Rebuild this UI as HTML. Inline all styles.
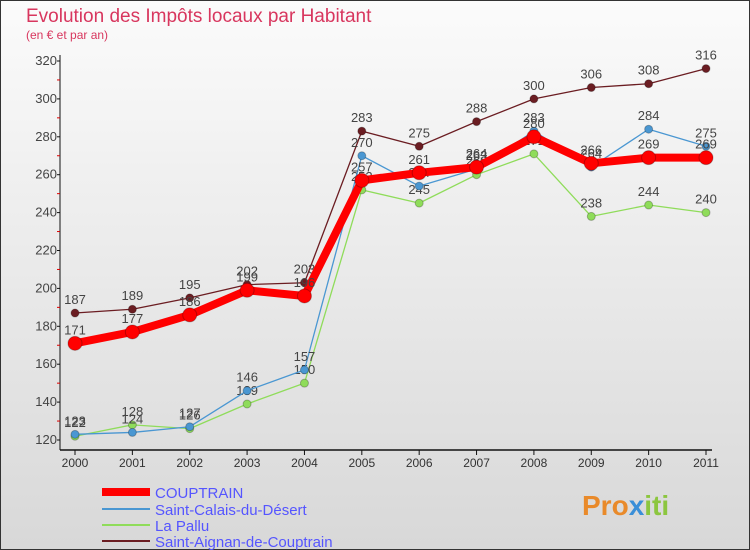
<!DOCTYPE html>
<html><head><meta charset="utf-8"><style>
body{margin:0;width:750px;height:550px;overflow:hidden;font-family:"Liberation Sans",sans-serif}
#c{position:absolute;left:0;top:0;width:748px;height:548px;border:1px solid #333;background:linear-gradient(#fbfbfb,#d8d8d8)}
</style></head><body>
<div id="c"></div>
<svg id="s" width="750" height="550" style="position:absolute;left:0;top:0">
<text x="26" y="22" font-size="19" fill="#d8365e">Evolution des Impôts locaux par Habitant</text>
<text x="26" y="39" font-size="12" fill="#d8365e">(en € et par an)</text>
<g id="axes"></g><g id="series"></g>
<g>
<line x1="102" y1="492" x2="150" y2="492" stroke="#f00" stroke-width="8"/>
<text x="155" y="498" font-size="15" fill="#55f">COUPTRAIN</text>
<line x1="102" y1="509" x2="150" y2="509" stroke="#4a97d2" stroke-width="2"/>
<text x="155" y="515" font-size="15" fill="#55f">Saint-Calais-du-Désert</text>
<line x1="102" y1="525" x2="150" y2="525" stroke="#8fdc5a" stroke-width="2"/>
<text x="155" y="531" font-size="15" fill="#55f">La Pallu</text>
<line x1="102" y1="541" x2="150" y2="541" stroke="#6b1d22" stroke-width="2"/>
<text x="155" y="547" font-size="15" fill="#55f">Saint-Aignan-de-Couptrain</text>
</g>
<text x="582" y="515" font-size="28" font-weight="bold" fill="#e98a2a">Pro<tspan fill="#3a8fd8">x</tspan><tspan fill="#8cc63f">iti</tspan></text>
</svg>
<script>
const years=["2000","2001","2002","2003","2004","2005","2006","2007","2008","2009","2010","2011"];
const yTicks=[120,140,160,180,200,220,240,260,280,300,320];
const couptrain=[171,177,186,199,196,257,261,264,280,266,269,269];
const saintCalais=[123,124,127,146,157,270,254,263,283,264,284,275];
const laPallu=[122,128,126,139,150,252,245,260,271,238,244,240];
const saintAignan=[187,189,195,202,203,283,275,288,300,306,308,316];
const NS="http://www.w3.org/2000/svg";
const X=i=>75+i*(706-75)/11;
const Y=v=>440-(v-120)*(440-61)/200;
function mk(t,a,p){const e=document.createElementNS(NS,t);for(const k in a)e.setAttribute(k,a[k]);p.appendChild(e);return e;}
const ax=document.getElementById('axes');
const yl=mk('line',{x1:60,y1:55,x2:60,y2:450,stroke:'#111'},ax);


const xl=mk('line',{x1:60,y1:450,x2:712,y2:450,stroke:'#111','stroke-width':1.5},ax);


yTicks.forEach(v=>{const t=mk('text',{x:57,y:Y(v)+4,'font-size':13,'text-anchor':'end',fill:'#444'},ax);t.textContent=v;


mk('line',{x1:57,y1:Y(v),x2:60,y2:Y(v),stroke:'#111'},ax);
if(v<320)mk('line',{x1:57,y1:Y(v+10),x2:60,y2:Y(v+10),stroke:'#d00'},ax);});
years.forEach((y,i)=>{mk('line',{x1:X(i),y1:450,x2:X(i),y2:455,stroke:'#111'},ax);
const t=mk('text',{x:X(i),y:467,'font-size':12,'text-anchor':'middle',fill:'#333'},ax);t.textContent=y;

});
const sg=document.getElementById('series');
function draw(d,col,w,r,name){const g=mk('g',{},sg);


mk('polyline',{points:d.map((v,i)=>X(i)+','+Y(v)).join(' '),fill:'none',stroke:col,'stroke-width':w,'stroke-linejoin':'round'},g);
d.forEach((v,i)=>{const c=mk('circle',{cx:X(i),cy:Y(v),r:r,fill:col,stroke:'rgba(0,0,0,0.25)'},g);


const t=mk('text',{x:X(i),y:Y(v)-9,'font-size':13,'text-anchor':'middle',fill:'#444'},g);t.textContent=v;

});}
draw(saintAignan,'#6b1d22',1.3,4,'series-saint-aignan');
draw(laPallu,'#8fdc5a',1.3,4,'series-la-pallu');
draw(saintCalais,'#4a97d2',1.3,4,'series-saint-calais');
draw(couptrain,'#f00',8,7,'series-couptrain');
</script>
</body></html>
